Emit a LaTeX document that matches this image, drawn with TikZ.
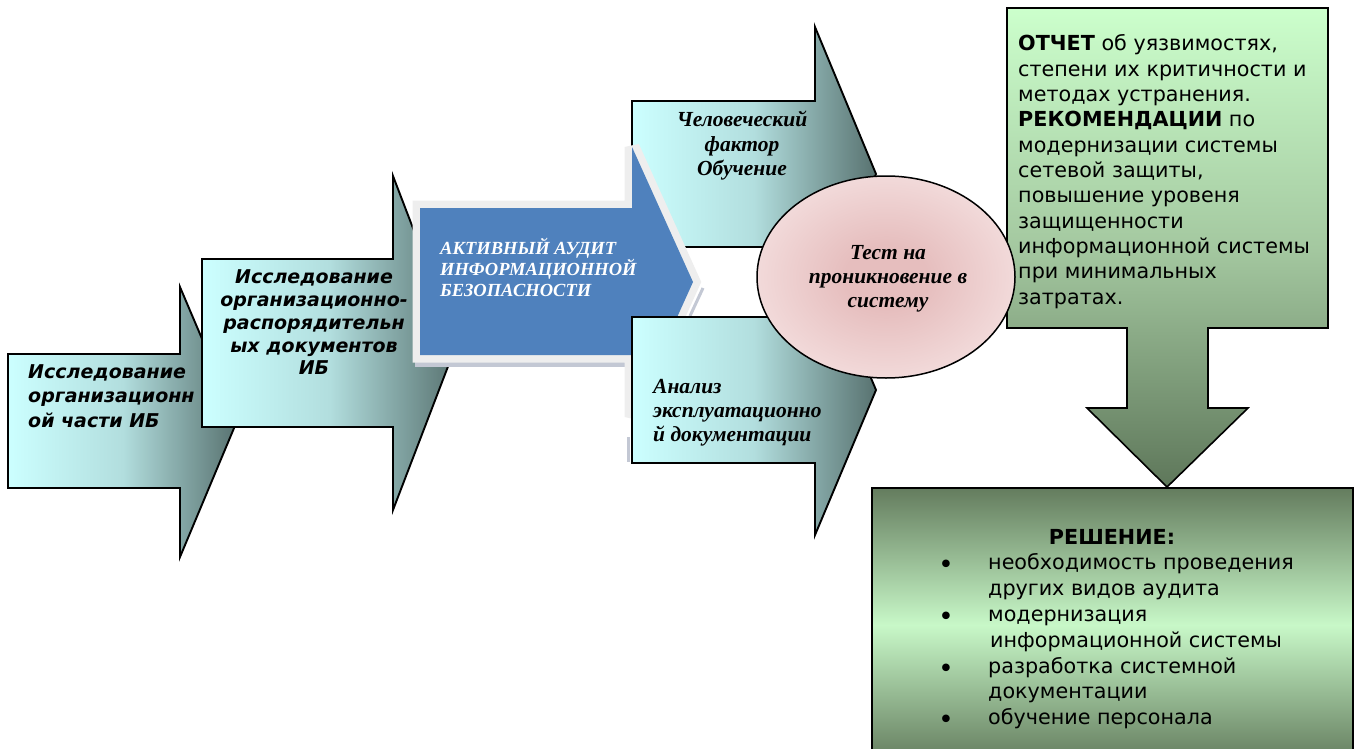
\documentclass[tikz,border=0pt]{standalone}
\usepackage{fontspec}
\setmainfont{Liberation Serif}
\newfontfamily\vsans{DejaVu Sans}
\definecolor{cyanL}{HTML}{CCFFFF}
\definecolor{cyanM}{HTML}{B2DEDE}
\definecolor{slateD}{HTML}{587270}
\definecolor{blueA}{HTML}{4F81BD}
\definecolor{grayB}{HTML}{EEEEEE}
\definecolor{pinkC}{HTML}{E6BEBE}
\definecolor{pinkO}{HTML}{FCF2F2}
\definecolor{greenL}{HTML}{CCFFCC}
\definecolor{greenM}{HTML}{A4C8A0}
\definecolor{greenD}{HTML}{5E775A}
\definecolor{greenT}{HTML}{647C5E}
\definecolor{greenC}{HTML}{C8F8C8}
\definecolor{shadowB}{HTML}{C3C8D4}
\pgfdeclareradialshading{pinkrad}{\pgfpoint{0bp}{0bp}}{color(0bp)=(pinkC); color(8bp)=(pinkC); color(40bp)=(pinkO); color(50bp)=(pinkO)}
\begin{document}
\begin{tikzpicture}[x=1pt,y=-1pt,
  arrowbox/.style={draw=black, line width=1.9pt, line join=miter, left color=cyanL, right color=slateD, middle color=cyanM},
  sanslbl/.style={font=\vsans\bfseries\itshape\fontsize{19}{22}\selectfont, inner sep=0pt, text=black},
  seriflbl/.style={font=\bfseries\itshape\fontsize{21.5}{24}\selectfont, inner sep=0pt, text=black},
  bluelbl/.style={font=\bfseries\itshape\fontsize{18.5}{21}\selectfont, inner sep=0pt, text=white},
  boxlbl/.style={font=\vsans\fontsize{20.7}{24}\selectfont, inner sep=0pt, text=black},
  bulletlbl/.style={font=\vsans\fontsize{26}{26}\selectfont, inner sep=0pt, text=black},
]
\useasboundingbox (0,0) rectangle (1359,749);
\clip (0,0) rectangle (1359,749);
\fill[white] (0,0) rectangle (1359,749);

% arrow 1
\path[arrowbox] (8,354) -- (180,354) -- (180,287) -- (237,421) -- (180,557) -- (180,488) -- (8,488) -- cycle;
% arrow 2
\path[arrowbox] (202,259) -- (393,259) -- (393,176) -- (457,343) -- (393,510) -- (393,427) -- (202,427) -- cycle;
% upper right arrow
\path[arrowbox] (632,101) -- (815,101) -- (815,27) -- (876,174) -- (815,321) -- (815,247) -- (632,247) -- cycle;
% blue arrow with light border and shadow
\fill[shadowB] (415,361) rectangle (668,367);
\draw[shadowB, line width=3pt] (703,288) -- (690,316);
\draw[grayB, line width=15pt, line join=miter, miter limit=2] (420,208) -- (632,208) -- (632,147) -- (693,282) -- (632,417) -- (632,355) -- (420,355) -- cycle;
\fill[blueA] (420,208) -- (632,208) -- (632,147) -- (693,282) -- (632,417) -- (632,355) -- (420,355) -- cycle;
\draw[shadowB, line width=3pt] (628,437) -- (628,462);
% lower arrow
\path[arrowbox] (632,317) -- (815,317) -- (815,245) -- (876,390) -- (815,535) -- (815,463) -- (632,463) -- cycle;

% green callout
\path[draw=black, line width=1.6pt, top color=greenL, bottom color=greenD, middle color=greenM]
  (1007,8) -- (1328,8) -- (1328,328) -- (1208,328) -- (1208,408) -- (1248,408) -- (1167,487)
  -- (1087,408) -- (1127,408) -- (1127,328) -- (1007,328) -- cycle;

% ellipse
\path[draw=black, line width=1.5pt, shading=pinkrad] (886,277) ellipse [x radius=129, y radius=101];

% bottom box
\path[draw=black, line width=1.6pt, top color=greenT, bottom color=greenT, middle color=greenC] (872,488) rectangle (1353,762);

% texts arrow 1
\node[sanslbl, anchor=base west] (a1l1) at (28,378) {Исследование};
\node[sanslbl, anchor=base west] (a1l2) at (28,402.5) {организационн};
\node[sanslbl, anchor=base west] (a1l3) at (28,427) {ой части ИБ};
% texts arrow 2
\node[sanslbl, anchor=base] (a2l1) at (314,283) {Исследование};
\node[sanslbl, anchor=base] (a2l2) at (314,306) {организационно-};
\node[sanslbl, anchor=base] (a2l3) at (314,329) {распорядительн};
\node[sanslbl, anchor=base] (a2l4) at (314,352) {ых документов};
\node[sanslbl, anchor=base] (a2l5) at (314,374) {ИБ};
% blue
\node[bluelbl, anchor=base west] (bl1) at (440,254) {АКТИВНЫЙ АУДИТ};
\node[bluelbl, anchor=base west] (bl2) at (440,275) {ИНФОРМАЦИОННОЙ};
\node[bluelbl, anchor=base west] (bl3) at (440,296) {БЕЗОПАСНОСТИ};
% upper right
\node[seriflbl, anchor=base] (ul1) at (742,127) {Человеческий};
\node[seriflbl, anchor=base] (ul2) at (742,151) {фактор};
\node[seriflbl, anchor=base] (ul3) at (742,175) {Обучение};
% lower
\node[seriflbl, anchor=base west] (ll1) at (653,393) {Анализ};
\node[seriflbl, anchor=base west] (ll2) at (653,417.5) {эксплуатационно};
\node[seriflbl, anchor=base west] (ll3) at (653,441) {й документации};
% ellipse
\node[seriflbl, anchor=base] (el1) at (888,259) {Тест на};
\node[seriflbl, anchor=base] (el2) at (888,283) {проникновение в};
\node[seriflbl, anchor=base] (el3) at (888,307) {систему};

% green callout text
\node[boxlbl, anchor=base west] (g1) at (1018,51) {\textbf{ОТЧЕТ} об уязвимостях,};
\node[boxlbl, anchor=base west] (g2) at (1018,76.3) {степени их критичности и};
\node[boxlbl, anchor=base west] (g3) at (1018,101.6) {методах устранения.};
\node[boxlbl, anchor=base west] (g4) at (1018,126.9) {\textbf{РЕКОМЕНДАЦИИ} по};
\node[boxlbl, anchor=base west] (g5) at (1018,152.2) {модернизации системы};
\node[boxlbl, anchor=base west] (g6) at (1018,177.5) {сетевой защиты,};
\node[boxlbl, anchor=base west] (g7) at (1018,202.8) {повышение уровеня};
\node[boxlbl, anchor=base west] (g8) at (1018,228.1) {защищенности};
\node[boxlbl, anchor=base west] (g9) at (1018,253.4) {информационной системы};
\node[boxlbl, anchor=base west] (g10) at (1018,278.7) {при минимальных};
\node[boxlbl, anchor=base west] (g11) at (1018,304) {затратах.};

% bottom box text
\node[boxlbl, anchor=base, font=\vsans\bfseries\fontsize{20.7}{24}\selectfont] (r0) at (1112,544.5) {РЕШЕНИЕ:};
\node[bulletlbl, anchor=center] (b1) at (946,567) {•};
\node[boxlbl, anchor=base west] (r1) at (988,569.5) {необходимость проведения};
\node[boxlbl, anchor=base west] (r2) at (988,595) {других видов аудита};
\node[bulletlbl, anchor=center] (b2) at (946,619) {•};
\node[boxlbl, anchor=base west] (r3) at (988,621) {модернизация};
\node[boxlbl, anchor=base west] (r4) at (990,647) {информационной системы};
\node[bulletlbl, anchor=center] (b3) at (946,671) {•};
\node[boxlbl, anchor=base west] (r5) at (988,673) {разработка системной};
\node[boxlbl, anchor=base west] (r6) at (988,698.5) {документации};
\node[bulletlbl, anchor=center] (b4) at (946,722) {•};
\node[boxlbl, anchor=base west] (r7) at (988,724) {обучение персонала};
\end{tikzpicture}
\end{document}
